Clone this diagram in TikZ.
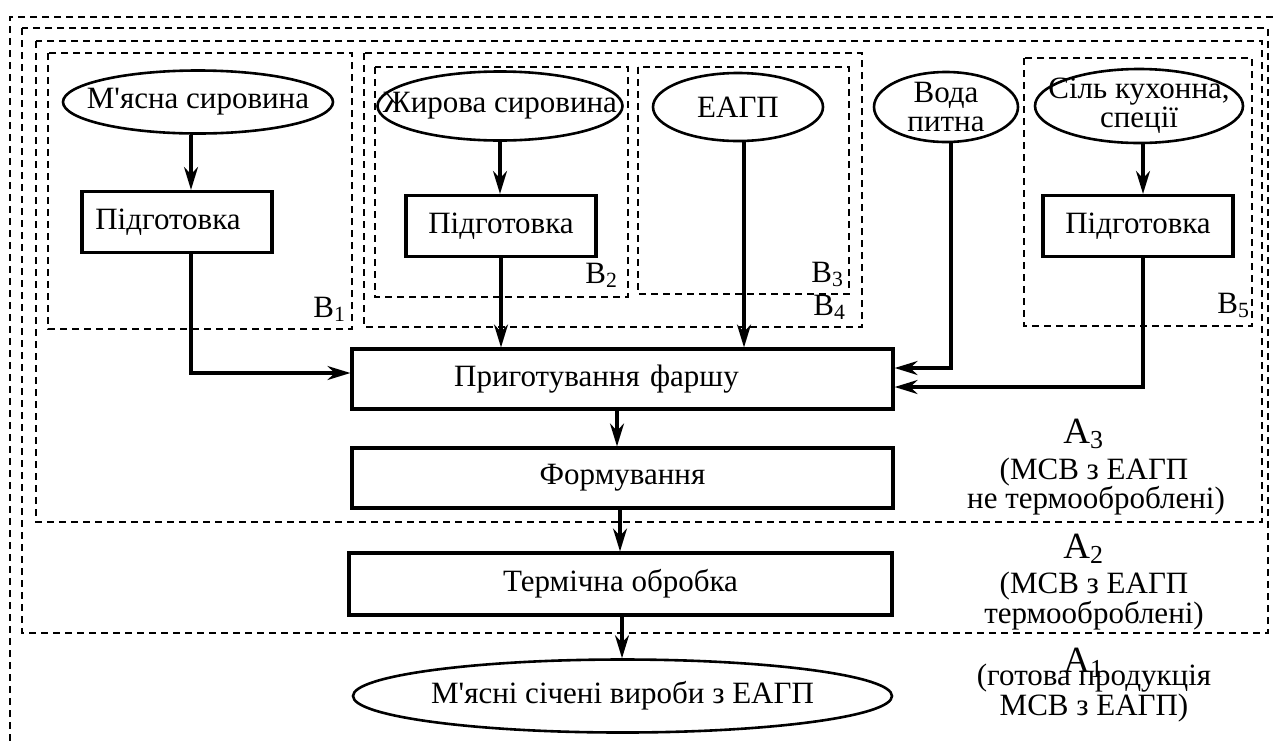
\documentclass[tikz,border=0pt]{standalone}
\usepackage{fontspec}
\setmainfont{Liberation Serif}[Ligatures=TeXOff]
\usetikzlibrary{arrows.meta,shapes.geometric}

\begin{document}
\begin{tikzpicture}[x=0.5pt,y=-0.5pt,
    txt/.style={font=\fontsize{15.5}{14.5}\selectfont, inner sep=0pt},
    bigtxt/.style={font=\fontsize{18.5}{18}\selectfont, inner sep=0pt},
    frame/.style={line width=1.2pt, dash pattern=on 3.5pt off 2.5pt},
    box/.style={draw, line width=1.6pt, minimum height=30.5pt, inner sep=0pt, align=center, txt},
    oval/.style={draw, ellipse, line width=1.3pt, inner sep=0pt},
    flow/.style={line width=1.6pt, -{Stealth[length=11.5pt,width=7pt]}}]

    \useasboundingbox (0,0) rectangle (1273,745);

    \draw[frame] (1273,17) -- (10,17) -- (10,745);
    \draw[frame] (22,28) rectangle (1268,633);
    \draw[frame] (36,41) rectangle (1262,522);
    \draw[frame] (48,53) rectangle (352,329);
    \draw[frame] (364,53) rectangle (862,327);
    \draw[frame] (375,67) rectangle (628,297);
    \draw[frame] (638,67) rectangle (849,294);
    \draw[frame] (1024,58) rectangle (1252,326);

    \node[oval, minimum width=135pt, minimum height=31.5pt, label={[txt]center:М'ясна сировина}] (meat) at (198,102) {};
    \node[oval, minimum width=122.5pt, minimum height=34.5pt, label={[txt]center:Жирова сировина}] (fat) at (500,106) {};
    \node[oval, minimum width=85pt, minimum height=34pt, label={[txt]center:ЕАГП}] (eagp) at (738,107) {};
    \node[oval, minimum width=72pt, minimum height=35pt, label={[txt, align=center]center:Вода\\питна}] (water) at (946,107) {};
    \node[oval, minimum width=104pt, minimum height=37pt, label={[txt, align=center]center:Сіль кухонна,\\спеції}] (salt) at (1139,106) {};

    \foreach \n/\x/\y/\s in {prep1/177/222/-9, prep2/501/226/0, prep3/1138/226/0} {
        \node[box, minimum width=95pt, text width=95pt] (\n) at (\x,\y) {\hspace*{\s pt}Підготовка};
    }

    \node[box, minimum width=270.5pt, text width=270.5pt, minimum height=30pt] (mix) at (622.5,379) {\hspace*{-26pt}Приготування фаршу};
    \node[box, minimum width=270.5pt, minimum height=30pt] (form) at (622.5,478) {Формування};
    \node[box, minimum width=271.5pt, minimum height=31pt] (heat) at (620.5,584) {Термічна обробка};
    \node[oval, minimum width=269.5pt, minimum height=36.5pt, label={[txt]center:М'ясні січені вироби з ЕАГП}] (product) at (622.5,696) {};

    \coordinate (meatturn) at (191,373);
    \coordinate (eagpline) at (744,0);
    \coordinate (waterturn) at (951,368);
    \coordinate (saltturn) at (1143,387);

    \draw[flow] (meat.south -| meatturn) -- (prep1.north -| meatturn);
    \draw[flow] (prep1.south -| meatturn) -- (meatturn) -- (mix.west |- meatturn);
    \draw[flow] (fat.south) -- (fat.south |- prep2.north);
    \draw[flow] (prep2.south) -- (prep2.south |- mix.north);
    \draw[flow] (eagp.south -| eagpline) -- (mix.north -| eagpline);
    \draw[flow] (water.south -| waterturn) -- (waterturn) -- (mix.east |- waterturn);
    \draw[flow] (salt.south -| saltturn) -- (prep3.north -| saltturn);
    \draw[flow] (prep3.south -| saltturn) -- (saltturn) -- (mix.east |- saltturn);
    \draw[flow] (mix.south -| 617,0) -- (form.north -| 617,0);
    \draw[flow] (form.south -| 620,0) -- (heat.north -| 620,0);
    \draw[flow] (heat.south -| 622,0) -- (product.north -| 622,0);

    \node[txt, anchor=base west] (b1) at (313,317) {B\textsubscript{1}};
    \node[txt, anchor=base west] (b2) at (585,283) {B\textsubscript{2}};
    \node[txt, anchor=base west] (b3) at (811,282) {B\textsubscript{3}};
    \node[txt, anchor=base west] (b4) at (813,315) {B\textsubscript{4}};
    \node[txt, anchor=base west] (b5) at (1217,313) {B\textsubscript{5}};

    \node[bigtxt, anchor=base west] (a3) at (1063,443) {A\textsubscript{3}};
    \node[txt, anchor=base] (a3top) at (1094,479) {(МСВ з ЕАГП};
    \node[txt, anchor=base] (a3bot) at (1096,508) {не термооброблені)};
    \node[bigtxt, anchor=base west] (a2) at (1063,558) {A\textsubscript{2}};
    \node[txt, anchor=base] (a2top) at (1094,593) {(МСВ з ЕАГП};
    \node[txt, anchor=base] (a2bot) at (1094,623) {термооброблені)};
    \node[bigtxt, anchor=base west] (a1) at (1063,672) {A\textsubscript{1}};
    \node[txt, anchor=base] (a1top) at (1094,685) {(готова продукція};
    \node[txt, anchor=base] (a1bot) at (1094,715) {МСВ з ЕАГП)};
  \end{tikzpicture}
\end{document}
